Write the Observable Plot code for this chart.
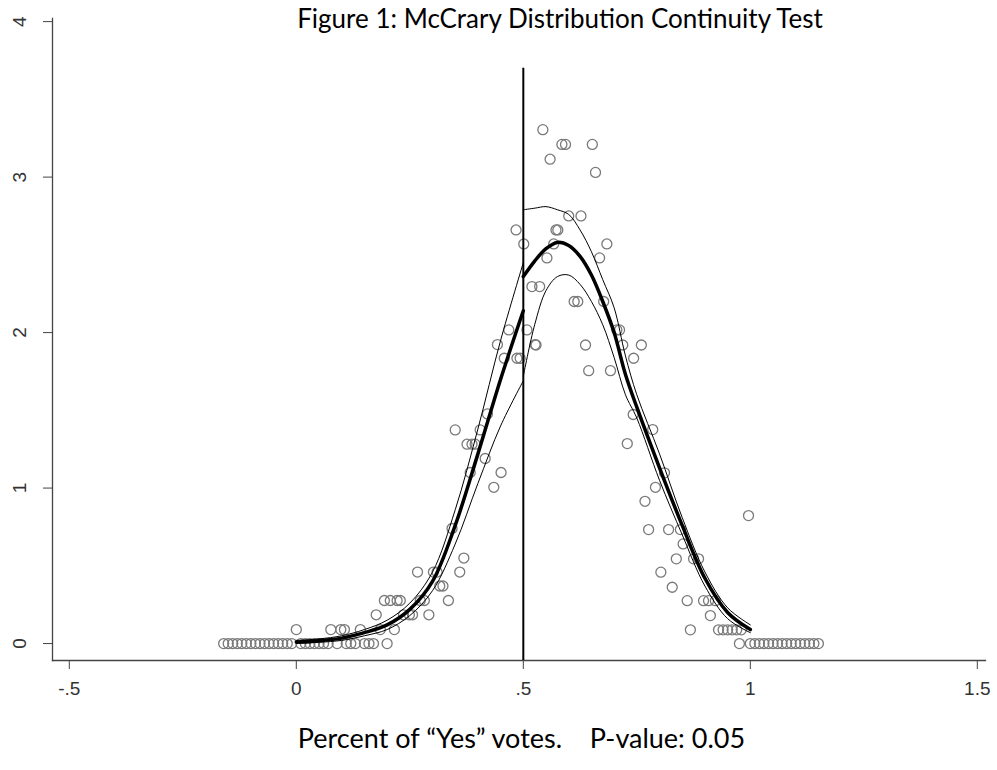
<!DOCTYPE html>
<html>
<head>
<meta charset="utf-8">
<script src="https://cdn.jsdelivr.net/npm/d3@7"></script>
<script src="https://cdn.jsdelivr.net/npm/@observablehq/plot@0.6"></script>
<style>
  html, body { margin: 0; padding: 0; background: #fff; }
  #wrap { position: relative; width: 997px; height: 770px; overflow: hidden; }
  #title { position: absolute; left: 0; width: 997px; top: 3px; text-align: center; padding-left: 123px; box-sizing: border-box;
           font-family: Lato, "Open Sans", sans-serif; font-size: 26px; color: #000; line-height: 1.2; }
  #caption { position: absolute; left: 0; width: 997px; top: 722px; text-align: center; padding-left: 46px; box-sizing: border-box;
           font-family: Lato, "Open Sans", sans-serif; font-size: 27px; color: #000; white-space: pre; line-height: 1.2; }
</style>
</head>
<body>
<div id="wrap">
  <div id="chart"></div>
  <div id="title">Figure 1: McCrary Distribution Continuity Test</div>
  <div id="caption">Percent of “Yes” votes.    P-value: 0.05</div>
</div>
<script>
// ---- data ----
const xTicks = [-0.5, 0, 0.5, 1, 1.5];
const xTickLabels = ["-.5", "0", ".5", "1", "1.5"];
const yTicks = [0, 1, 2, 3, 4];
const yTickLabels = ["0", "1", "2", "3", "4"];
const cutoff = 0.5;
const cutoffTop = 3.7;
const xDomain = [-0.537, 1.518];
const yDomain = [-0.109, 4.02];

// histogram-bin points (x = bin midpoint, y = density)
const binX = [
  -0.16,-0.15,-0.14,-0.13,-0.12,-0.11,-0.10,-0.09,-0.08,-0.07,-0.06,-0.05,-0.04,-0.03,-0.02,-0.01,
  0.01,0.02,0.03,0.04,0.05,0.06,0.07,0.09,0.11,0.12,0.13,0.15,0.16,0.17,0.20,
  0.00,0.076,0.098,0.106,0.141,0.185,0.216,
  0.176,0.236,0.249,0.256,0.292,
  0.194,0.207,0.222,0.229,0.273,0.282,0.335,
  0.316,0.323,
  0.267,0.302,0.310,0.360,
  0.369,0.343,0.383,0.451,0.435,0.416,0.350,0.405,0.376,0.387,0.394,0.421,
  0.443,0.458,0.486,0.493,0.526,
  0.543,0.585,0.593,0.652,0.559,0.659,0.600,0.627,0.484,0.572,0.576,
  0.501,0.567,0.684,0.552,0.668,0.519,0.536,0.612,0.620,0.677,
  0.468,0.508,0.706,0.712,0.528,0.637,0.719,0.760,0.743,0.644,0.692,
  0.729,0.742,
  0.785,0.811,0.791,0.768,0.776,0.820,0.846,0.996,0.852,0.837,0.875,0.886,
  0.803,0.828,0.861,0.897,0.908,0.923,0.912,0.868,
  0.930,0.940,0.950,0.960,0.970,0.980,
  0.976,1.00,1.01,1.02,1.03,1.04,1.05,1.06,1.07,1.08,1.09,1.10,1.11,1.12,1.13,1.14,1.15
];
const binY = [
  0,0,0,0,0,0,0,0,0,0,0,0,0,0,0,0,
  0,0,0,0,0,0,0,0,0,0,0,0,0,0,0,
  0.09,0.09,0.09,0.09,0.09,0.09,0.09,
  0.185,0.185,0.185,0.185,0.185,
  0.277,0.277,0.277,0.277,0.277,0.277,0.277,
  0.37,0.37,
  0.46,0.46,0.46,0.46,
  0.55,0.74,1.10,1.10,1.005,1.19,1.374,1.374,1.282,1.282,1.282,1.477,
  1.923,1.835,1.835,1.835,1.923,
  3.305,3.21,3.21,3.21,3.115,3.03,2.75,2.75,2.66,2.66,2.66,
  2.57,2.57,2.57,2.48,2.48,2.296,2.296,2.20,2.20,2.20,
  2.017,2.017,2.017,2.017,1.92,1.92,1.92,1.92,1.835,1.755,1.755,
  1.286,1.473,
  1.376,1.098,1.005,0.915,0.733,0.733,0.733,0.823,0.641,0.545,0.545,0.545,
  0.459,0.362,0.276,0.276,0.276,0.276,0.18,0.088,
  0.088,0.088,0.088,0.088,0.088,0.088,
  0,0,0,0,0,0,0,0,0,0,0,0,0,0,0,0,0
];

// fitted density left of the cutoff with its confidence band
const leftX   = [0, 0.05, 0.1, 0.15, 0.2, 0.25, 0.3, 0.35, 0.4, 0.45, 0.5];
const leftEst = [0.01, 0.018, 0.035, 0.07, 0.12, 0.22, 0.40, 0.76, 1.22, 1.70, 2.14];
const leftLo  = [0.0, 0.008, 0.02, 0.05, 0.09, 0.18, 0.34, 0.64, 1.03, 1.40, 1.69];
const leftHi  = [0.02, 0.03, 0.05, 0.09, 0.15, 0.26, 0.46, 0.86, 1.38, 1.95, 2.45];

// fitted density right of the cutoff with its confidence band
const rightX   = [0.5, 0.525, 0.55, 0.575, 0.6, 0.625, 0.65, 0.675, 0.7, 0.725, 0.75, 0.8, 0.85, 0.9, 0.95, 1.0];
const rightEst = [2.36, 2.46, 2.54, 2.58, 2.56, 2.49, 2.37, 2.20, 2.00, 1.73, 1.52, 1.13, 0.76, 0.42, 0.20, 0.09];
const rightLo  = [1.72, 2.05, 2.27, 2.36, 2.37, 2.31, 2.20, 2.05, 1.84, 1.60, 1.45, 1.05, 0.70, 0.37, 0.16, 0.07];
const rightHi  = [2.79, 2.80, 2.81, 2.79, 2.76, 2.66, 2.52, 2.34, 2.16, 1.85, 1.60, 1.22, 0.81, 0.46, 0.23, 0.12];

// ---- build tables ----
const bins = binX.map((x, i) => ({x, y: binY[i]}));
const mk = (xs, ys) => xs.map((x, i) => ({x, y: ys[i]}));
const bands = [mk(leftX, leftLo), mk(leftX, leftHi), mk(rightX, rightLo), mk(rightX, rightHi)];
const estimates = [mk(leftX, leftEst), mk(rightX, rightEst)];

const axisColor = "#444";
const chart = Plot.plot({
  width: 997,
  height: 770,
  marginLeft: 52,
  marginRight: 12,
  marginTop: 18,
  marginBottom: 110,
  style: {background: "#fff", fontFamily: "'Liberation Sans', Arial, sans-serif"},
  x: {domain: xDomain},
  y: {domain: yDomain},
  marks: [
    Plot.frame({anchor: "left", stroke: axisColor, strokeWidth: 1.3}),
    Plot.frame({anchor: "bottom", stroke: axisColor, strokeWidth: 1.3}),
    Plot.axisX({ticks: xTicks, tickFormat: (d) => xTickLabels[xTicks.indexOf(d)], tickSize: 9, tickPadding: 12,
                fontSize: 19, stroke: axisColor, color: "#333", label: null}),
    Plot.axisY({ticks: yTicks, tickFormat: (d) => yTickLabels[yTicks.indexOf(d)], tickSize: 9, tickRotate: -90,
                tickPadding: 18, fontSize: 19, stroke: axisColor, color: "#333", label: null}),
    Plot.dot(bins, {x: "x", y: "y", r: 5, stroke: "#7a7a7a", strokeWidth: 1.3, fill: "none"}),
    Plot.ruleX([cutoff], {y1: yDomain[0], y2: cutoffTop, stroke: "#000", strokeWidth: 2}),
    ...bands.map((d) => Plot.line(d, {x: "x", y: "y", stroke: "#000", strokeWidth: 1, curve: "catmull-rom"})),
    ...estimates.map((d) => Plot.line(d, {x: "x", y: "y", stroke: "#000", strokeWidth: 3.5, curve: "catmull-rom"}))
  ]
});
document.getElementById("chart").appendChild(chart);
</script>
</body>
</html>
